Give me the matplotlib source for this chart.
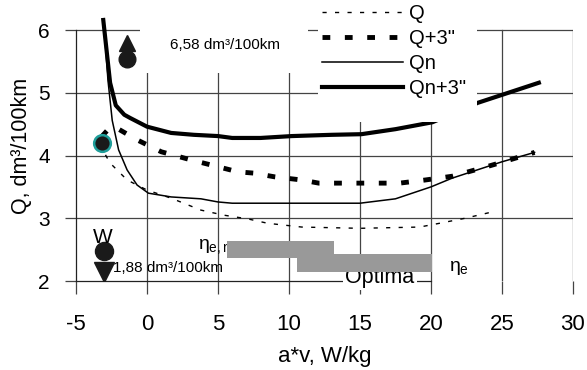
import matplotlib
matplotlib.use("Agg")
import matplotlib.pyplot as plt
from matplotlib.patches import Rectangle

plt.rcParams['font.family'] = ['Liberation Sans', 'DejaVu Sans']
plt.rcParams['mathtext.fontset'] = 'custom'
plt.rcParams['mathtext.rm'] = 'Liberation Sans'
plt.rcParams['mathtext.it'] = 'Liberation Sans'
plt.rcParams['axes.unicode_minus'] = False

# curves (x = a*v in W/kg, y = Q in dm3/100km)
q_x = [-3.2, -2.9, -2.6, -1.4, 0.0, 1.7, 3.8, 5.4, 7.1, 8.5, 10.9, 15.0, 19.2, 20.6, 22.4, 24.3]
q_y = [4.20, 4.00, 3.88, 3.61, 3.45, 3.32, 3.13, 3.05, 2.99, 2.92, 2.86, 2.84, 2.86, 2.92, 3.00, 3.10]

q3_x = [-3.2, -2.6, -2.0, -0.7, 1.0, 3.1, 4.5, 6.4, 7.5, 9.0, 10.9, 12.1, 16.0, 17.8, 19.6, 21.5, 23.9, 25.1, 27.3]
q3_y = [4.30, 4.45, 4.42, 4.25, 4.06, 3.93, 3.85, 3.74, 3.72, 3.66, 3.61, 3.56, 3.56, 3.56, 3.61, 3.67, 3.82, 3.90, 4.05]

qn_x = [-3.05, -2.75, -2.6, -2.45, -2.0, -1.4, -0.7, 0.1, 1.7, 3.8, 5.0, 6.0, 8.0, 10.0, 15.0, 17.5, 20.0, 21.5, 25.0, 27.3]
qn_y = [6.16, 5.20, 4.88, 4.56, 4.09, 3.77, 3.53, 3.40, 3.34, 3.31, 3.26, 3.24, 3.24, 3.24, 3.24, 3.31, 3.50, 3.64, 3.90, 4.05]

qn3_x = [-3.08, -2.6, -2.2, -1.6, -1.2, 0.0, 1.7, 3.3, 5.0, 6.0, 8.0, 10.2, 13.0, 15.1, 17.5, 20.1, 23.3, 27.6]
qn3_y = [6.16, 5.16, 4.80, 4.65, 4.60, 4.46, 4.36, 4.33, 4.31, 4.28, 4.28, 4.31, 4.33, 4.34, 4.42, 4.53, 4.84, 5.16]

# efficiency bands: (x start, x end, y low, y high)
band_en = (5.6, 13.2, 2.37, 2.64)
band_e = (10.6, 20.1, 2.15, 2.43)

x_ticks = [-5, 0, 5, 10, 15, 20, 25, 30]
y_ticks = [2, 3, 4, 5, 6]

fig = plt.figure(figsize=(5.87, 3.70), dpi=100)
ax = fig.add_axes([0.1295, 0.2405, 0.8465, 0.7292])
ax.set_xlim(-5, 30)
ax.set_ylim(2, 6.3)

# grid
for xv in x_ticks[1:]:
    ax.plot([xv, xv], [2, 6], color='#444444', lw=0.9, zorder=1)
for yv in y_ticks[1:]:
    ax.plot([-5, 30], [yv, yv], color='#444444', lw=0.9, zorder=1)

ax.spines['top'].set_visible(False)
ax.spines['right'].set_visible(False)
ax.spines['left'].set_bounds(2, 6)
ax.spines['bottom'].set_bounds(-5, 20)
for s in ('left', 'bottom'):
    ax.spines[s].set_color('#222222')
    ax.spines[s].set_linewidth(0.9)

ax.set_xticks(x_ticks)
ax.set_yticks(y_ticks)
ax.tick_params(axis='x', direction='out', length=9, width=0.9, pad=15, labelsize=16, color='#444444')
ax.tick_params(axis='y', direction='out', length=8, width=0.9, pad=11, labelsize=15, color='#444444')
ax.set_xlabel('a*v, W/kg', fontsize=16, labelpad=8)
ax.set_ylabel('Q, dm³/100km', fontsize=15.5, labelpad=4)

# bands
for (x0, x1, y0, y1) in (band_en, band_e):
    ax.add_patch(Rectangle((x0, y0), x1 - x0, y1 - y0, facecolor='#999999', edgecolor='none', zorder=4))

ax.text(16.4, 2.06, 'Optima', fontsize=15.5, ha='center', va='center', zorder=3,
        bbox=dict(facecolor='white', edgecolor='none', boxstyle='square,pad=0.1'))
ax.text(3.6, 2.55, r'$\eta_{e,n}$', fontsize=14, ha='left', va='center', zorder=3)
ax.text(21.3, 2.2, r'$\eta_{e}$', fontsize=14, ha='left', va='center', zorder=3)

# curves
ax.plot(q_x, q_y, color='black', lw=1.0, dashes=(3, 6), label='Q', zorder=5, clip_on=False)
ax.plot(q3_x, q3_y, color='black', lw=3.5, dashes=(1.6, 3), label='Q+3"', zorder=5, clip_on=False)
ax.plot(qn_x, qn_y, color='black', lw=1.1, label='Qn', zorder=5, clip_on=False)
ax.plot(qn3_x, qn3_y, color='black', lw=3.0, label='Qn+3"', zorder=5, clip_on=False)

# markers
ax.plot([-3.16], [4.2], marker='o', ms=12, mfc='#1a1a1a', mec='#1f9e9a', mew=1.8, zorder=7, clip_on=False)
ax.plot([-1.38], [5.80], marker='^', ms=12, color='#1a1a1a', zorder=7)
ax.plot([-1.38], [5.54], marker='o', ms=12, color='#1a1a1a', zorder=7)

# white box behind the upper annotation
ax.add_patch(Rectangle((-0.46, 5.31), 11.8, 1.2, facecolor='white', edgecolor='none', zorder=3, clip_on=False))
ax.text(1.6, 5.76, '6,58 dm³/100km', fontsize=11, ha='left', va='center', zorder=6)

ax.plot([-3.0], [2.14], marker='v', ms=14, color='#1a1a1a', zorder=7)
ax.plot([-3.0], [2.48], marker='o', ms=13, color='#1a1a1a', zorder=7)
ax.text(-3.1, 2.70, 'W', fontsize=15, ha='center', va='center', zorder=8)
ax.text(-2.4, 2.2, '1,88 dm³/100km', fontsize=11, ha='left', va='center', zorder=8)

# white area behind the legend covering the curves there
fig.add_artist(Rectangle((318 / 587, 1 - 122 / 370), 159 / 587, 122 / 370, transform=fig.transFigure,
                         facecolor='white', edgecolor='none', zorder=2))
leg = fig.legend(loc='upper left', bbox_to_anchor=(318 / 587, 1.0), fontsize=14.5,
                 handlelength=4.0, handletextpad=0.3, labelspacing=0.3,
                 borderpad=0.2, borderaxespad=0.0, frameon=False)
leg.set_zorder(3)

fig.savefig('out.png', dpi=100)
